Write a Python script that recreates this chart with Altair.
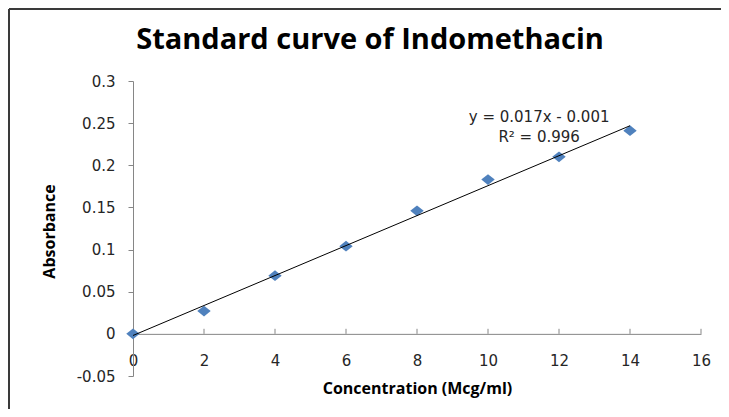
import altair as alt
import pandas as pd

# ---- data ----
conc = [0, 2, 4, 6, 8, 10, 12, 14]
absorb = [0.0, 0.027, 0.069, 0.104, 0.146, 0.183, 0.210, 0.241]
x_ticks = [0, 2, 4, 6, 8, 10, 12, 14, 16]
y_ticks = [-0.05, 0, 0.05, 0.1, 0.15, 0.2, 0.25, 0.3]
eq_lines = ["y = 0.017x - 0.001", "R² = 0.996"]
eq_x = [11.44]
eq_y = [0.2569]

W, H = 568, 295
AX = "#868686"
LBL = "#262626"
BOLD_FONT = "Open Sans"

df = pd.DataFrame({"c": conc, "a": absorb})
xs = alt.Scale(domain=[0, 16], nice=False, zero=False)
ys = alt.Scale(domain=[-0.05, 0.3], nice=False, zero=False)

x_axis = alt.Axis(
    values=x_ticks, offset=-42.14, ticks=False, tickSize=0, labelPadding=20,
    domainColor=AX, domainWidth=1, grid=False, labelFlush=False, labelOverlap=False,
    labelFont="DejaVu Sans", labelFontSize=15, labelColor=LBL,
    title="Concentration (Mcg/ml)", titleFont=BOLD_FONT, titleFontSize=16,
    titleFontWeight="bold", titleColor="#000", titleBaseline="middle", titleY=55,
)
y_axis = alt.Axis(
    values=y_ticks, labelExpr="toString(datum.value)", tickSize=5, tickColor=AX,
    domainColor=AX, domainWidth=1, grid=False, labelPadding=13, labelOverlap=False,
    labelFont="DejaVu Sans", labelFontSize=15, labelColor=LBL,
    title="Absorbance", titleFont=BOLD_FONT, titleFontSize=16, titleFontWeight="bold",
    titleColor="#000", titleX=-84, titleY=150, titleAlign="center",
    titleBaseline="middle", titleAngle=270,
)

points = alt.Chart(df).mark_point(
    shape="M -1 0 L 0 -0.8 L 1 0 L 0 0.8 Z", filled=True, size=180,
    color="#4F81BD", opacity=1, strokeWidth=0,
).encode(
    x=alt.X("c:Q", scale=xs, axis=x_axis),
    y=alt.Y("a:Q", scale=ys, axis=y_axis),
)

trend = alt.Chart(df).transform_regression(
    "c", "a", extent=[0, 14]
).mark_line(color="#000000", strokeWidth=1).encode(
    x=alt.X("c:Q", scale=xs),
    y=alt.Y("a:Q", scale=ys),
)

tick_df = pd.DataFrame({"c": x_ticks[1:]})
xticks = alt.Chart(tick_df).mark_rule(color=AX, strokeWidth=1).encode(
    x=alt.X("c:Q", scale=xs),
    y=alt.Y(datum=0, scale=ys),
    y2=alt.Y2(datum=0.006),
)

eq = alt.Chart(pd.DataFrame({"c": eq_x, "a": eq_y})).mark_text(
    text=eq_lines, font="DejaVu Sans", fontSize=15, color=LBL,
    lineHeight=20, align="center", baseline="middle",
).encode(
    x=alt.X("c:Q", scale=xs),
    y=alt.Y("a:Q", scale=ys),
)

one = pd.DataFrame({"k": [0]})
frame_top = alt.Chart(one).mark_rule(color="#3a3a3a", strokeWidth=2).encode(
    x=alt.value(-124), x2=alt.value(W + 40), y=alt.value(-72)
)
frame_left = alt.Chart(one).mark_rule(color="#3a3a3a", strokeWidth=2).encode(
    x=alt.value(-124), y=alt.value(-72), y2=alt.value(H + 40)
)

chart = alt.layer(xticks, points, trend, eq, frame_top, frame_left).properties(
    width=W,
    height=H,
    padding={"left": 125, "top": 73, "right": 20, "bottom": 33},
    autosize=alt.AutoSizeParams(type="none"),
    title=alt.TitleParams(
        "Standard curve of Indomethacin", font=BOLD_FONT, fontSize=29,
        fontWeight="bold", color="#000000", anchor="middle", frame="group",
        dx=-47, offset=-70, baseline="alphabetic",
    ),
    background="white",
).configure_view(stroke=None)

chart.save("out.html", embed_options={"renderer": "svg", "actions": False})
